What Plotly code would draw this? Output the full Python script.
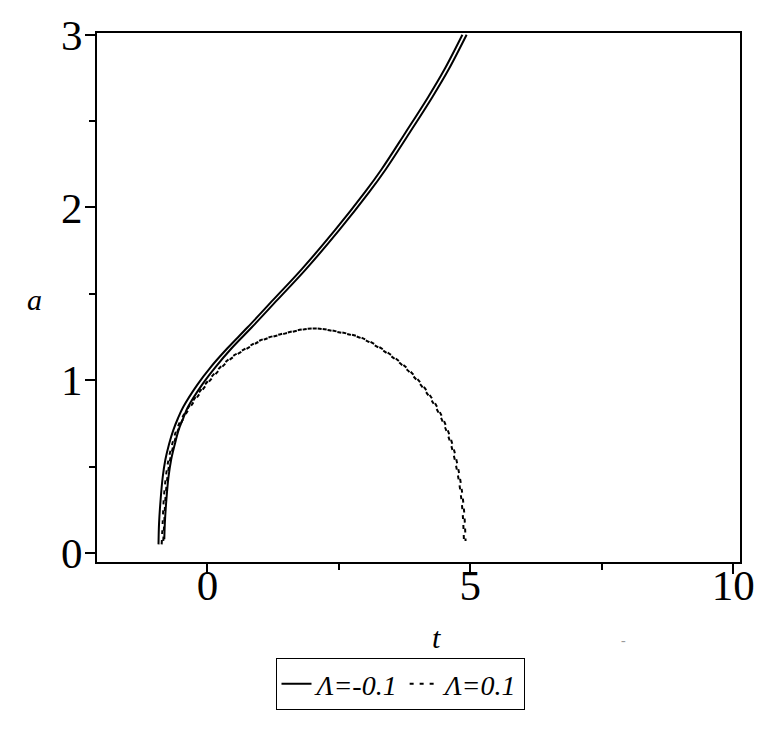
import plotly.graph_objects as go

# Lambda = -0.1 (two solid branches)
t_neg_1 = [-0.93, -0.92, -0.89, -0.85, -0.80, -0.73, -0.65, -0.56, -0.46, -0.19, 0.06, 0.38, 0.76, 1.25, 1.80, 2.43, 3.00, 3.31, 3.76, 4.20, 4.51, 4.85]
a_neg_1 = [0.05, 0.17, 0.31, 0.44, 0.54, 0.63, 0.71, 0.78, 0.845, 0.975, 1.075, 1.185, 1.305, 1.465, 1.645, 1.87, 2.09, 2.22, 2.43, 2.64, 2.80, 3.00]
t_neg_2 = [-0.82, -0.81, -0.78, -0.74, -0.69, -0.62, -0.55, -0.46, -0.37, -0.10, 0.15, 0.46, 0.84, 1.33, 1.88, 2.51, 3.08, 3.39, 3.84, 4.28, 4.59, 4.93]
a_neg_2 = [0.08, 0.17, 0.31, 0.44, 0.54, 0.63, 0.71, 0.78, 0.845, 0.975, 1.075, 1.185, 1.305, 1.465, 1.645, 1.87, 2.09, 2.22, 2.43, 2.64, 2.80, 3.00]

# Lambda = 0.1 (two dotted branches)
t_pos_1 = [-0.87, -0.85, -0.83, -0.79, -0.74, -0.67, -0.59, -0.45, -0.23, 0.05, 0.40, 0.76, 1.00, 1.44, 2.00, 2.47, 2.91, 3.40, 3.80, 4.14, 4.40, 4.62, 4.77, 4.85, 4.88]
a_pos_1 = [0.05, 0.18, 0.31, 0.44, 0.54, 0.63, 0.71, 0.80, 0.90, 1.01, 1.12, 1.19, 1.23, 1.27, 1.30, 1.28, 1.245, 1.16, 1.06, 0.94, 0.81, 0.64, 0.44, 0.25, 0.06]
t_pos_2 = [-0.84, -0.82, -0.80, -0.76, -0.71, -0.64, -0.56, -0.42, -0.20, 0.08, 0.43, 0.79, 1.03, 1.47, 2.03, 2.50, 2.94, 3.43, 3.83, 4.17, 4.43, 4.65, 4.80, 4.88, 4.91]
a_pos_2 = [0.07, 0.18, 0.31, 0.44, 0.54, 0.63, 0.71, 0.80, 0.90, 1.01, 1.12, 1.19, 1.23, 1.27, 1.30, 1.28, 1.245, 1.16, 1.06, 0.94, 0.81, 0.64, 0.44, 0.25, 0.07]

x_ticks = [0, 5, 10]
y_ticks = [0, 1, 2, 3]
x_minor = [2.5, 7.5]
y_minor = [0.5, 1.5, 2.5]
labels = ["Λ=-0.1", "Λ=0.1"]

fig = go.Figure()
fig.add_trace(go.Scatter(x=t_neg_1, y=a_neg_1, mode="lines", name=f"<i>{labels[0]}</i>",
                         line=dict(color="black", width=2, shape="spline")))
fig.add_trace(go.Scatter(x=t_neg_2, y=a_neg_2, mode="lines", showlegend=False,
                         line=dict(color="black", width=2, shape="spline")))
fig.add_trace(go.Scatter(x=t_pos_1, y=a_pos_1, mode="lines", name=f"<i>{labels[1]}</i>",
                         line=dict(color="black", width=2, dash="4px,6px", shape="spline")))
fig.add_trace(go.Scatter(x=t_pos_2, y=a_pos_2, mode="lines", showlegend=False,
                         line=dict(color="black", width=2, dash="4px,6px", shape="spline")))

# page body has an 8px default margin, so the figure is 8px smaller and margins shifted
fig.update_layout(
    width=756, height=723,
    margin=dict(l=89, r=24, t=25, b=169),
    paper_bgcolor="white", plot_bgcolor="white",
    font=dict(family="Liberation Serif", color="black"),
    showlegend=True,
    legend=dict(orientation="h", x=(400 - 97) / 643, xanchor="center", y=(562 - 658) / 529, yanchor="top",
                bordercolor="black", borderwidth=1, bgcolor="white",
                font=dict(size=28, family="Liberation Serif"),
                itemwidth=30, tracegroupgap=0),
)
fig.update_xaxes(range=[-2.1, 10.13], tickvals=x_ticks, ticks="outside", ticklen=10, tickwidth=1.5,
                 tickcolor="black", showline=True, linecolor="black", linewidth=2, mirror=True,
                 showgrid=False, zeroline=False, tickfont=dict(size=43), automargin=False,
                 ticklabelstandoff=-26,
                 minor=dict(tickvals=x_minor, ticks="outside", ticklen=6, tickwidth=1.5, tickcolor="black"))
fig.update_yaxes(range=[-0.052, 3.01], tickvals=y_ticks, ticks="outside", ticklen=10, tickwidth=1.5,
                 tickcolor="black", showline=True, linecolor="black", linewidth=2, mirror=True,
                 showgrid=False, zeroline=False, tickfont=dict(size=43), automargin=False,
                 ticklabelstandoff=-6,
                 minor=dict(tickvals=y_minor, ticks="outside", ticklen=6, tickwidth=1.5, tickcolor="black"))

fig.add_annotation(text="<i>t</i>", x=(436 - 97) / 643, xref="paper", y=(562 - 656) / 529, yref="paper",
                   showarrow=False, font=dict(size=30, family="Liberation Serif"))
fig.add_annotation(text="<i>a</i>", x=(25 - 97) / 643, xref="paper", y=(562 - 300) / 529, yref="paper",
                   showarrow=False, font=dict(size=30, family="Liberation Serif"))
fig.add_annotation(text="-", x=(628 - 97) / 643, xref="paper", y=(562 - 650) / 529, yref="paper",
                   showarrow=False, font=dict(size=14, color="#999999"))

fig.write_html("out.html")
